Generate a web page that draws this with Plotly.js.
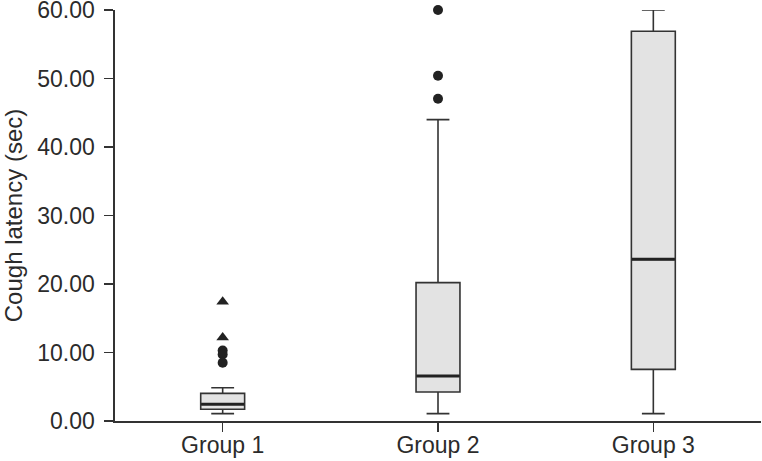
<!DOCTYPE html>
<html>
<head>
<meta charset="utf-8">
<script src="https://cdn.plot.ly/plotly-3.0.1.min.js"></script>
<style>html,body{margin:0;padding:0;background:#fff;}#chart{width:762px;height:461px;}</style>
</head>
<body>
<div id="chart"></div>
<script>
const groups = ["Group 1", "Group 2", "Group 3"];
const lowerWhisker = [1.07, 1.07, 1.07];
const q1 = [1.71, 4.23, 7.54];
const median = [2.44, 6.57, 23.6];
const q3 = [4.04, 20.2, 56.9];
const upperWhisker = [4.86, 44.0, 60.0];
// outliers (circles) and extreme values (triangles)
const outlierGroup = [0, 0, 0, 1, 1, 1];
const outlierValue = [10.3, 9.7, 8.5, 60.0, 50.4, 47.05];
const extremeGroup = [0, 0];
const extremeValue = [17.4, 12.2];
const yTickVals = [0, 10, 20, 30, 40, 50, 60];
const yTickText = ['0.00', '10.00', '20.00', '30.00', '40.00', '50.00', '60.00'];

const pos = groups.map((g, i) => i);
const halfBox = 0.1;

const medX = [], medY = [];
pos.forEach((p, i) => { medX.push(p - halfBox, p + halfBox, null); medY.push(median[i], median[i], null); });

const traces = [
  {
    type: 'box',
    x: pos,
    q1: q1, median: median, q3: q3,
    lowerfence: lowerWhisker, upperfence: upperWhisker,
    fillcolor: '#e3e3e3',
    line: {color: '#333333', width: 1.6},
    whiskerwidth: 0.52,
    boxpoints: false,
    hoverinfo: 'skip',
    showlegend: false
  },
  {
    type: 'scatter', mode: 'lines',
    x: medX, y: medY,
    line: {color: '#222222', width: 3},
    hoverinfo: 'skip', showlegend: false
  },
  {
    type: 'scatter', mode: 'markers',
    x: outlierGroup, y: outlierValue,
    marker: {symbol: 'circle', size: 10, color: '#222222'},
    cliponaxis: false, showlegend: false
  },
  {
    type: 'scatter', mode: 'markers',
    x: extremeGroup, y: extremeValue,
    marker: {symbol: 'triangle-up', size: 11, color: '#222222'},
    cliponaxis: false, showlegend: false
  }
];

const layout = {
  width: 762, height: 461,
  margin: {l: 115, r: 1, t: 10, b: 40, pad: 0},
  paper_bgcolor: '#ffffff', plot_bgcolor: '#ffffff',
  font: {family: 'Liberation Sans, Arial, sans-serif', color: '#2b2b2b', size: 24},
  boxgap: 0.796,
  boxgroupgap: 0,
  showlegend: false,
  xaxis: {
    range: [-0.5, 2.5],
    tickmode: 'array', tickvals: pos, ticktext: groups,
    showgrid: false, zeroline: false,
    showline: true, linecolor: '#333333', linewidth: 1.6,
    ticks: 'outside', ticklen: 9, tickwidth: 1.6, tickcolor: '#333333',
    tickfont: {size: 23, color: '#2b2b2b'},
    ticklabelstandoff: -6,
    fixedrange: true
  },
  yaxis: {
    range: [0, 60],
    tickmode: 'array', tickvals: yTickVals, ticktext: yTickText,
    showgrid: false, zeroline: false,
    showline: true, linecolor: '#333333', linewidth: 1.6,
    ticks: 'outside', ticklen: 9, tickwidth: 1.6, tickcolor: '#333333',
    tickfont: {size: 23, color: '#2b2b2b'},
    ticklabelstandoff: 5,
    ticklabeloverflow: 'allow',
    title: {text: 'Cough latency (sec)', font: {size: 24, color: '#2b2b2b'}, standoff: 12},
    automargin: false,
    fixedrange: true
  },
  shapes: [
    {type: 'line', xref: 'x', yref: 'paper', x0: 2.5, x1: 2.5, y0: 0, y1: 0, line: {color: '#333333', width: 1.6}}
  ]
};

Plotly.newPlot('chart', traces, layout, {displayModeBar: false, staticPlot: true});
</script>
</body>
</html>
